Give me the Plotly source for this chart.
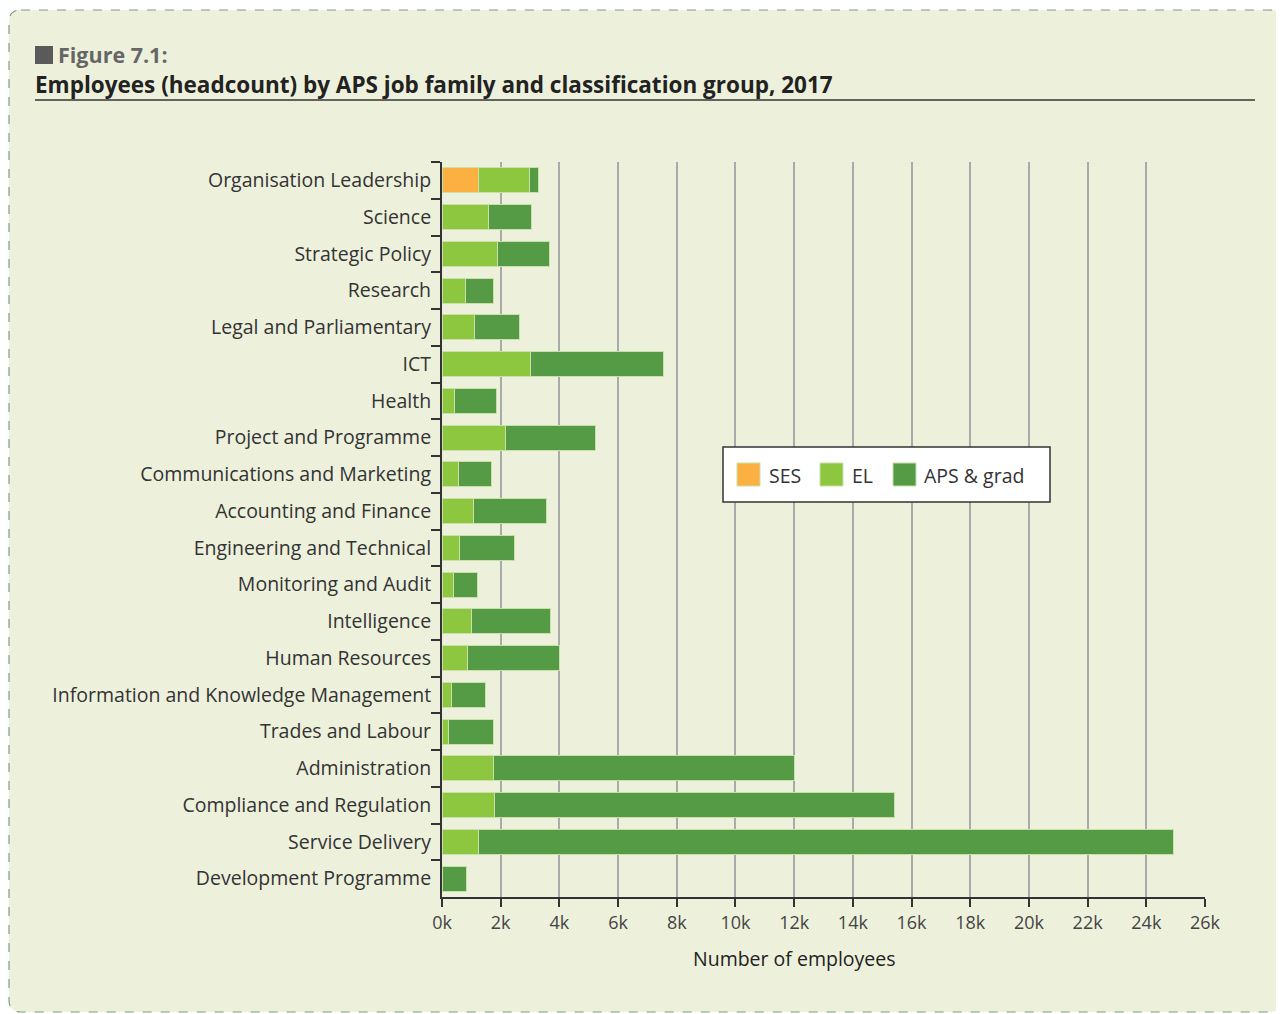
import plotly.graph_objects as go

categories = [
    "Organisation Leadership", "Science", "Strategic Policy", "Research",
    "Legal and Parliamentary", "ICT", "Health", "Project and Programme",
    "Communications and Marketing", "Accounting and Finance",
    "Engineering and Technical", "Monitoring and Audit", "Intelligence",
    "Human Resources", "Information and Knowledge Management",
    "Trades and Labour", "Administration", "Compliance and Regulation",
    "Service Delivery", "Development Programme",
]
ses = [1250, 0, 0, 0, 0, 0, 0, 0, 0, 0, 0, 0, 0, 0, 0, 0, 0, 0, 0, 0]
el = [1730, 1570, 1890, 800, 1100, 3020, 420, 2160, 570, 1070, 610, 390,
      1010, 870, 330, 220, 1750, 1800, 1260, 0]
aps = [300, 1490, 1760, 940, 1550, 4530, 1450, 3080, 1120, 2480, 1850, 810,
       2680, 3130, 1140, 1530, 10250, 13620, 23650, 850]
series_names = ["SES", "EL", "APS & grad"]
series_colors = ["#FBB041", "#8DC63F", "#559A45"]
x_tickvals = list(range(0, 26001, 2000))
x_ticktext = [f"{v // 1000}k" for v in x_tickvals]

OFF = 8  # page body margin
W, H = 1284 - OFF, 1014 - OFF
# plot area in screen pixels
SL, SR, ST, SB = 442, 1205, 162, 897
L, R, T, B = SL - OFF, SR - OFF, ST - OFF, SB - OFF
BG = "#EDF1DC"
FONT = "Open Sans"


def px(x):
    """screen x -> paper"""
    return (x - SL) / (SR - SL)


def py(y):
    """screen y -> paper"""
    return (SB - y) / (SB - ST)


fig = go.Figure()
for name, vals, col in zip(series_names, [ses, el, aps], series_colors):
    fig.add_trace(go.Bar(
        y=categories, x=vals, name=name, orientation="h",
        marker=dict(color=col, line=dict(color="#C9E0A8", width=1)),
        showlegend=False,
    ))

fig.update_layout(
    width=W, height=H,
    margin=dict(l=L, r=W - R, t=T, b=H - B),
    paper_bgcolor="white", plot_bgcolor=BG,
    barmode="stack", bargap=0.32,
    font=dict(family=FONT, color="#333"),
    xaxis=dict(
        range=[0, 26000], tickvals=x_tickvals, ticktext=x_ticktext,
        showgrid=True, gridcolor="#AAAAAA", gridwidth=1.5,
        showline=True, linecolor="#333", linewidth=2,
        ticks="outside", ticklen=8, tickwidth=2, tickcolor="#333",
        tickfont=dict(size=18, color="#444", family=FONT),
        zeroline=False, fixedrange=True,
    ),
    yaxis=dict(
        categoryorder="array", categoryarray=categories, autorange="reversed",
        showline=True, linecolor="#333", linewidth=2,
        ticks="outside", tickson="boundaries", ticklen=9, tickwidth=2,
        tickcolor="#333", showgrid=False, ticklabelstandoff=5,
        tickfont=dict(size=19.5, color="#333", family=FONT),
    ),
)

shapes = []
annotations = []

# dashed rounded border with green fill
x0, x1, y0, y1, r = px(9), px(1282), py(10), py(1012), 12
rx, ry = r / (SR - SL), r / (SB - ST)
path = (f"M {x0+rx},{y0} L {x1-rx},{y0} Q {x1},{y0} {x1},{y0-ry} "
        f"L {x1},{y1+ry} Q {x1},{y1} {x1-rx},{y1} L {x0+rx},{y1} "
        f"Q {x0},{y1} {x0},{y1+ry} L {x0},{y0-ry} Q {x0},{y0} {x0+rx},{y0} Z")
shapes.append(dict(type="path", path=path, xref="paper", yref="paper",
                   fillcolor=BG,
                   line=dict(color="#7F9C80", width=1.2, dash="dash"),
                   layer="below"))

# title square and underline
shapes.append(dict(type="rect", xref="paper", yref="paper",
                   x0=px(35), x1=px(53), y0=py(46), y1=py(64),
                   fillcolor="#5A5A5A", line=dict(width=0)))
shapes.append(dict(type="line", xref="paper", yref="paper",
                   x0=px(35), x1=px(1255), y0=py(100), y1=py(100),
                   line=dict(color="#333", width=1.5)))
annotations.append(dict(text="<b>Figure 7.1:</b>", xref="paper", yref="paper",
                        x=px(56), y=py(54), xanchor="left", yanchor="middle",
                        showarrow=False, font=dict(size=21.5, color="#666", family=FONT)))
annotations.append(dict(text="<b>Employees (headcount) by APS job family and classification group, 2017</b>",
                        xref="paper", yref="paper",
                        x=px(33), y=py(84), xanchor="left", yanchor="middle",
                        showarrow=False, font=dict(size=22.5, color="#222", family=FONT)))
annotations.append(dict(text="Number of employees", xref="paper", yref="paper",
                        x=px(794), y=py(958), xanchor="center", yanchor="middle",
                        showarrow=False, font=dict(size=19.5, color="#222", family=FONT)))

# custom legend
shapes.append(dict(type="rect", xref="paper", yref="paper",
                   x0=px(723), x1=px(1050), y0=py(447), y1=py(502),
                   fillcolor="white", line=dict(color="#333", width=1.5)))
sw_x = [737, 820, 893]
tx_x = [767, 850, 922]
for name, col, sx, tx in zip(series_names, series_colors, sw_x, tx_x):
    shapes.append(dict(type="rect", xref="paper", yref="paper",
                       x0=px(sx), x1=px(sx + 23), y0=py(463), y1=py(486),
                       fillcolor=col, line=dict(color="#C9E0A8", width=1)))
    annotations.append(dict(text=name, xref="paper", yref="paper",
                            x=px(tx), y=py(475), xanchor="left", yanchor="middle",
                            showarrow=False, font=dict(size=19.5, color="#333", family=FONT)))

fig.update_layout(shapes=shapes, annotations=annotations)
fig.write_html("out.html")
